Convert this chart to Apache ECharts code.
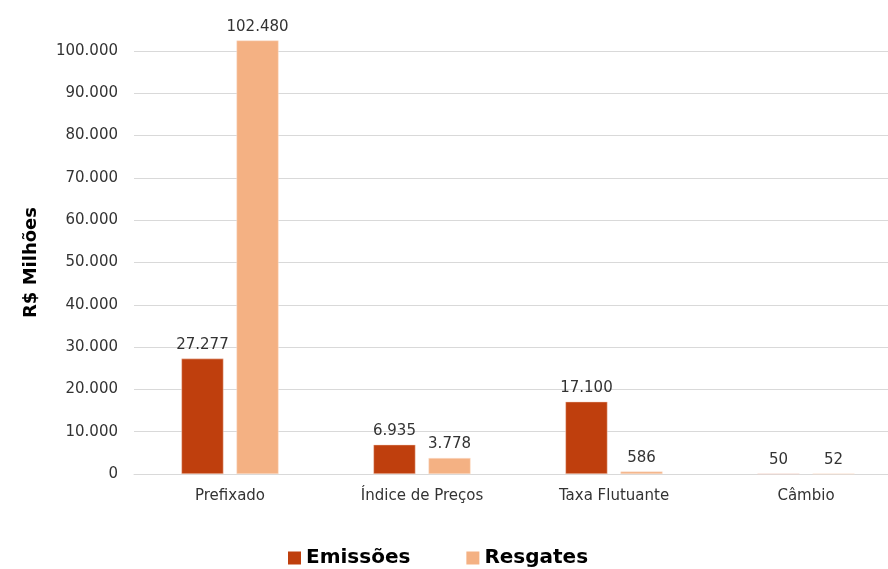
<!DOCTYPE html>
<html>
<head>
<meta charset="utf-8">
<script src="https://cdn.jsdelivr.net/npm/echarts@6/dist/echarts.min.js"></script>
<style>
  html, body { margin: 0; padding: 0; background: #fff; overflow: hidden; width: 888px; height: 569px; }
  /* the plot runs slightly past the right and bottom edges of the visible page */
  #chart { width: 902px; height: 575px; }
</style>
</head>
<body>
<div id="chart"></div>
<script>
// Emissões e resgates por indexador (R$ milhões)
const categories = ['Prefixado', 'Índice de Preços', 'Taxa Flutuante', 'Câmbio'];
const emissoes = [27277, 6935, 17100, 50];
const resgates = [102480, 3778, 586, 52];
const seriesNames = ['Emissões', 'Resgates'];
const yMax = 100000;
const yStep = 10000;

const fmt = v => Math.round(v).toString().replace(/\B(?=(\d{3})+(?!\d))/g, '.');
const font = '"DejaVu Sans", sans-serif';

const chart = echarts.init(document.getElementById('chart'));
chart.setOption({
  animation: false,
  grid: { left: 134, right: 0, top: 51, bottom: 101 },
  legend: {
    data: seriesNames,
    bottom: 2,
    left: 283,
    itemWidth: 13,
    itemHeight: 13,
    itemGap: 56,
    icon: 'rect',
    itemStyle: { borderWidth: 0 },
    textStyle: { fontFamily: font, fontSize: 20, fontWeight: 'bold', color: '#000' }
  },
  xAxis: {
    type: 'category',
    data: categories,
    axisTick: { show: false },
    axisLine: { lineStyle: { color: '#d9d9d9' } },
    axisLabel: { fontFamily: font, fontSize: 15, color: '#333', margin: 15 }
  },
  yAxis: {
    type: 'value',
    min: 0,
    max: yMax,
    interval: yStep,
    name: 'R$ Milhões',
    nameLocation: 'middle',
    nameGap: 94,
    nameTextStyle: { fontFamily: font, fontSize: 18, fontWeight: 'bold', color: '#000' },
    axisLabel: { fontFamily: font, fontSize: 15, color: '#333', margin: 16, formatter: fmt },
    splitLine: { lineStyle: { color: '#d9d9d9' } }
  },
  series: [
    {
      name: seriesNames[0],
      type: 'bar',
      data: emissoes,
      clip: false,
      barWidth: '21.9%',
      barGap: '31%',
      itemStyle: { color: '#BF3F0D', borderColor: '#f6d9cc', borderWidth: 0.5 },
      label: { show: true, position: 'top', distance: 6, fontFamily: font, fontSize: 15, color: '#333', formatter: p => fmt(p.value) }
    },
    {
      name: seriesNames[1],
      type: 'bar',
      data: resgates,
      clip: false,
      barWidth: '21.9%',
      itemStyle: { color: '#F4B183', borderColor: '#fbe3d3', borderWidth: 0.5 },
      label: { show: true, position: 'top', distance: 6, fontFamily: font, fontSize: 15, color: '#333', formatter: p => fmt(p.value) }
    }
  ]
});
</script>
</body>
</html>
